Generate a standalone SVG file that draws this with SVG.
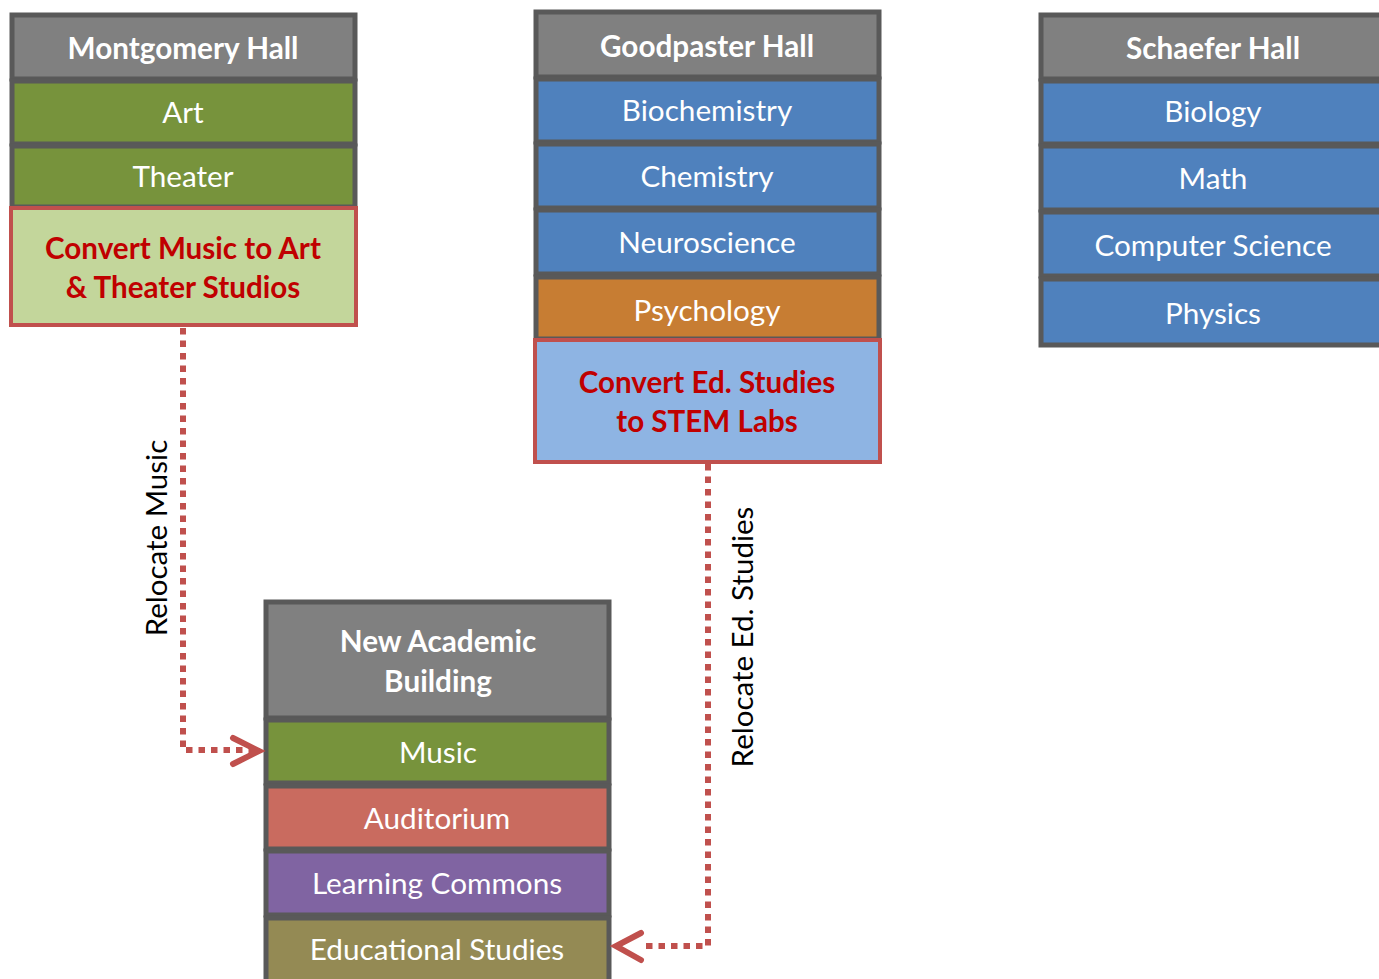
<svg xmlns="http://www.w3.org/2000/svg" width="1379" height="979" viewBox="0 0 1379 979">
<defs>
<style>
.cell{stroke:#595959;stroke-width:5}
.hd{fill:#808080}
.gr{fill:#77933C}
.bl{fill:#4F81BD}
.or{fill:#C77D33}
.au{fill:#C96B5F}
.pu{fill:#8064A2}
.ol{fill:#948A54}
.cv{stroke:#C0504D;stroke-width:4}
text{font-family:Lato,"Liberation Sans",sans-serif;text-anchor:middle}
.ht{fill:#fff;font-weight:bold;font-size:29.7px}
.ct{fill:#fff;font-size:29.7px}
.rt{fill:#C00000;font-weight:bold;font-size:29.6px}
.lb{fill:#000;font-size:29.5px}
.con{fill:none;stroke:#C0504D;stroke-width:6;stroke-dasharray:6.5 6}
.ah{fill:none;stroke:#C0504D;stroke-width:6;stroke-linecap:round;stroke-linejoin:miter}
</style>
</defs>
<g id="montgomery">
<rect class="cell hd" x="12" y="15" width="343" height="64"/>
<text class="ht" x="183" y="59">Montgomery Hall</text>
<rect class="cell gr" x="12" y="81" width="343" height="63"/>
<text class="ct" x="183" y="123">Art</text>
<rect class="cell gr" x="12" y="146" width="343" height="61"/>
<text class="ct" x="183" y="187">Theater</text>
<rect class="cv" fill="#C3D69B" x="11" y="208" width="345" height="117"/>
<text class="rt" x="183" y="259">Convert Music to Art</text>
<text class="rt" x="183" y="298">&amp; Theater Studios</text>
</g>
<g id="goodpaster">
<rect class="cell hd" x="536" y="12" width="343" height="65"/>
<text class="ht" x="707" y="57">Goodpaster Hall</text>
<rect class="cell bl" x="536" y="79" width="343" height="63"/>
<text class="ct" x="707" y="121">Biochemistry</text>
<rect class="cell bl" x="536" y="144" width="343" height="64"/>
<text class="ct" x="707" y="187">Chemistry</text>
<rect class="cell bl" x="536" y="210" width="343" height="64"/>
<text class="ct" x="707" y="253">Neuroscience</text>
<rect class="cell or" x="536" y="277" width="343" height="62"/>
<text class="ct" x="707" y="321">Psychology</text>
<rect class="cv" fill="#8EB4E3" x="535" y="340" width="345" height="122"/>
<text class="rt" x="707" y="393">Convert Ed. Studies</text>
<text class="rt" x="707" y="432">to STEM Labs</text>
</g>
<g id="schaefer">
<rect class="cell hd" x="1041" y="15" width="345" height="64"/>
<text class="ht" x="1213" y="59">Schaefer Hall</text>
<rect class="cell bl" x="1041" y="81" width="345" height="63"/>
<text class="ct" x="1213" y="122">Biology</text>
<rect class="cell bl" x="1041" y="146" width="345" height="64"/>
<text class="ct" x="1213" y="189">Math</text>
<rect class="cell bl" x="1041" y="212" width="345" height="64"/>
<text class="ct" x="1213" y="256">Computer Science</text>
<rect class="cell bl" x="1041" y="279" width="345" height="66"/>
<text class="ct" x="1213" y="324">Physics</text>
</g>
<g id="newacademic">
<rect class="cell hd" x="266" y="602" width="343" height="116"/>
<text class="ht" x="438" y="652">New Academic</text>
<text class="ht" x="438" y="692">Building</text>
<rect class="cell gr" x="266" y="720" width="343" height="63"/>
<text class="ct" x="438" y="763">Music</text>
<rect class="cell au" x="266" y="786" width="343" height="63"/>
<text class="ct" x="437" y="829">Auditorium</text>
<rect class="cell pu" x="266" y="851" width="343" height="64"/>
<text class="ct" x="437" y="894">Learning Commons</text>
<rect class="cell ol" x="266" y="918" width="343" height="70"/>
<text class="ct" x="437" y="960">Educational Studies</text>
</g>
<g id="connectors">
<path class="con" d="M183,328 V750 H258"/>
<polyline class="ah" points="233,738 259,751 233,764"/>
<text class="lb" transform="translate(167,538) rotate(-90)">Relocate Music</text>
<path class="con" d="M708,464 V946 H640"/>
<polyline class="ah" points="641,933 616,946 641,960"/>
<text class="lb" transform="translate(753,637) rotate(-90)">Relocate Ed. Studies</text>
</g>
</svg>
